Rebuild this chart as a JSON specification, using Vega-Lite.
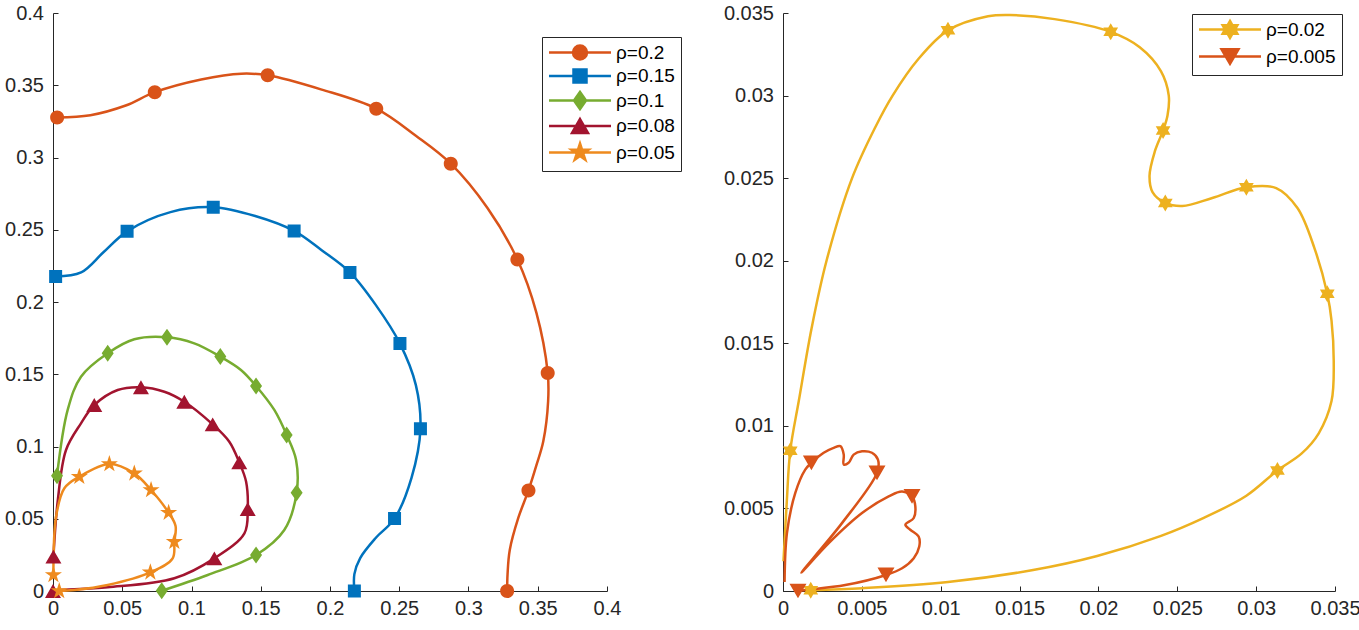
{
  "$schema": "https://vega.github.io/schema/vega-lite/v6.json",
  "padding": {"left": 4, "top": 3, "right": 5, "bottom": 5},
  "background": "white",
  "config": {
    "view": {"stroke": null},
    "axis": {"grid": false, "title": null, "domainColor": "#262626", "tickColor": "#262626", "labelColor": "#262626", "labelFont": "Liberation Sans", "labelFontSize": 20, "tickSize": -5, "domainWidth": 1, "tickWidth": 1, "labelFlush": false, "labelOverlap": false},
    "axisX": {"labelPadding": 12},
    "axisY": {"labelPadding": 14.5},
    "legend": {"labelFont": "Liberation Sans", "labelFontSize": 19, "labelColor": "#000000", "padding": 6, "strokeColor": "#262626", "fillColor": "#ffffff", "cornerRadius": 0, "symbolSize": 256, "symbolStrokeWidth": 2.5, "symbolOffset": 22.5, "labelOffset": 26.5, "symbolOpacity": 1, "title": null}
  },
  "datasets": {
    "leftLines": [
      {"s":"ρ=0.2","i":0,"x":0.003,"y":0.3277},{"s":"ρ=0.2","i":1,"x":0.027,"y":0.3293},{"s":"ρ=0.2","i":2,"x":0.0525,"y":0.336},{"s":"ρ=0.2","i":3,"x":0.0735,"y":0.3452},{"s":"ρ=0.2","i":4,"x":0.107,"y":0.354},{"s":"ρ=0.2","i":5,"x":0.136,"y":0.358},{"s":"ρ=0.2","i":6,"x":0.155,"y":0.3569},{"s":"ρ=0.2","i":7,"x":0.194,"y":0.347},{"s":"ρ=0.2","i":8,"x":0.2334,"y":0.3338},{"s":"ρ=0.2","i":9,"x":0.262,"y":0.315},{"s":"ρ=0.2","i":10,"x":0.2872,"y":0.2957},{"s":"ρ=0.2","i":11,"x":0.3137,"y":0.265},{"s":"ρ=0.2","i":12,"x":0.3353,"y":0.2294},{"s":"ρ=0.2","i":13,"x":0.349,"y":0.1926},{"s":"ρ=0.2","i":14,"x":0.3572,"y":0.1509},{"s":"ρ=0.2","i":15,"x":0.3575,"y":0.1314},{"s":"ρ=0.2","i":16,"x":0.354,"y":0.1036},{"s":"ρ=0.2","i":17,"x":0.349,"y":0.0869},{"s":"ρ=0.2","i":18,"x":0.3433,"y":0.0696},{"s":"ρ=0.2","i":19,"x":0.336,"y":0.0507},{"s":"ρ=0.2","i":20,"x":0.3298,"y":0.0284},{"s":"ρ=0.2","i":21,"x":0.3282,"y":0.0117},{"s":"ρ=0.2","i":22,"x":0.3279,"y":0},
      {"s":"ρ=0.15","i":0,"x":0.0019,"y":0.2177},{"s":"ρ=0.15","i":1,"x":0.0203,"y":0.2205},{"s":"ρ=0.15","i":2,"x":0.0364,"y":0.2344},{"s":"ρ=0.15","i":3,"x":0.0535,"y":0.2489},{"s":"ρ=0.15","i":4,"x":0.0848,"y":0.2622},{"s":"ρ=0.15","i":5,"x":0.1157,"y":0.2656},{"s":"ρ=0.15","i":6,"x":0.146,"y":0.2595},{"s":"ρ=0.15","i":7,"x":0.1741,"y":0.2492},{"s":"ρ=0.15","i":8,"x":0.194,"y":0.2358},{"s":"ρ=0.15","i":9,"x":0.2144,"y":0.2205},{"s":"ρ=0.15","i":10,"x":0.233,"y":0.198},{"s":"ρ=0.15","i":11,"x":0.2505,"y":0.1712},{"s":"ρ=0.15","i":12,"x":0.262,"y":0.1425},{"s":"ρ=0.15","i":13,"x":0.2653,"y":0.1122},{"s":"ρ=0.15","i":14,"x":0.2589,"y":0.0785},{"s":"ρ=0.15","i":15,"x":0.2466,"y":0.0501},{"s":"ρ=0.15","i":16,"x":0.233,"y":0.0367},{"s":"ρ=0.15","i":17,"x":0.2218,"y":0.0228},{"s":"ρ=0.15","i":18,"x":0.2176,"y":0.0117},{"s":"ρ=0.15","i":19,"x":0.2176,"y":0},
      {"s":"ρ=0.1","i":0,"x":0.0029,"y":0.0798},{"s":"ρ=0.1","i":1,"x":0.0106,"y":0.1253},{"s":"ρ=0.1","i":2,"x":0.0202,"y":0.1483},{"s":"ρ=0.1","i":3,"x":0.0395,"y":0.1645},{"s":"ρ=0.1","i":4,"x":0.0587,"y":0.1742},{"s":"ρ=0.1","i":5,"x":0.0823,"y":0.1756},{"s":"ρ=0.1","i":6,"x":0.102,"y":0.1714},{"s":"ρ=0.1","i":7,"x":0.1208,"y":0.1622},{"s":"ρ=0.1","i":8,"x":0.1357,"y":0.153},{"s":"ρ=0.1","i":9,"x":0.1466,"y":0.1419},{"s":"ρ=0.1","i":10,"x":0.1598,"y":0.1253},{"s":"ρ=0.1","i":11,"x":0.1687,"y":0.108},{"s":"ρ=0.1","i":12,"x":0.1755,"y":0.0907},{"s":"ρ=0.1","i":13,"x":0.1759,"y":0.068},{"s":"ρ=0.1","i":14,"x":0.167,"y":0.0422},{"s":"ρ=0.1","i":15,"x":0.1466,"y":0.0249},{"s":"ρ=0.1","i":16,"x":0.1117,"y":0.0111},{"s":"ρ=0.1","i":17,"x":0.0785,"y":0.0002},
      {"s":"ρ=0.08","i":0,"x":0.0003,"y":0.0238},{"s":"ρ=0.08","i":1,"x":0.0035,"y":0.063},{"s":"ρ=0.08","i":2,"x":0.0094,"y":0.0976},{"s":"ρ=0.08","i":3,"x":0.0202,"y":0.116},{"s":"ρ=0.08","i":4,"x":0.0298,"y":0.1287},{"s":"ρ=0.08","i":5,"x":0.0467,"y":0.1391},{"s":"ρ=0.08","i":6,"x":0.0635,"y":0.141},{"s":"ρ=0.08","i":7,"x":0.0804,"y":0.1379},{"s":"ρ=0.08","i":8,"x":0.0948,"y":0.131},{"s":"ρ=0.08","i":9,"x":0.1153,"y":0.1153},{"s":"ρ=0.08","i":10,"x":0.1273,"y":0.1033},{"s":"ρ=0.08","i":11,"x":0.1345,"y":0.089},{"s":"ρ=0.08","i":12,"x":0.1394,"y":0.0757},{"s":"ρ=0.08","i":13,"x":0.1406,"y":0.0567},{"s":"ρ=0.08","i":14,"x":0.1382,"y":0.0399},{"s":"ρ=0.08","i":15,"x":0.1165,"y":0.0226},{"s":"ρ=0.08","i":16,"x":0.0876,"y":0.0088},{"s":"ρ=0.08","i":17,"x":0.0395,"y":0.0026},{"s":"ρ=0.08","i":18,"x":0.004,"y":0.0005},{"s":"ρ=0.08","i":19,"x":0,"y":0},
      {"s":"ρ=0.05","i":0,"x":0.0003,"y":0.0111},{"s":"ρ=0.05","i":1,"x":0.0022,"y":0.0514},{"s":"ρ=0.05","i":2,"x":0.0082,"y":0.0711},{"s":"ρ=0.05","i":3,"x":0.019,"y":0.0791},{"s":"ρ=0.05","i":4,"x":0.0407,"y":0.0879},{"s":"ρ=0.05","i":5,"x":0.0587,"y":0.0814},{"s":"ρ=0.05","i":6,"x":0.0708,"y":0.0699},{"s":"ρ=0.05","i":7,"x":0.0835,"y":0.0542},{"s":"ρ=0.05","i":8,"x":0.0885,"y":0.045},{"s":"ρ=0.05","i":9,"x":0.0876,"y":0.0341},{"s":"ρ=0.05","i":10,"x":0.0864,"y":0.0226},{"s":"ρ=0.05","i":11,"x":0.0703,"y":0.0129},{"s":"ρ=0.05","i":12,"x":0.0395,"y":0.0042},{"s":"ρ=0.05","i":13,"x":0.0154,"y":0.0007},{"s":"ρ=0.05","i":14,"x":0.0045,"y":0}
    ],
    "leftMarks": [
      {"s":"ρ=0.2","x":0.003,"y":0.3277},{"s":"ρ=0.2","x":0.0735,"y":0.3452},{"s":"ρ=0.2","x":0.155,"y":0.3569},{"s":"ρ=0.2","x":0.2334,"y":0.3338},{"s":"ρ=0.2","x":0.2872,"y":0.2957},{"s":"ρ=0.2","x":0.3353,"y":0.2294},{"s":"ρ=0.2","x":0.3572,"y":0.1509},{"s":"ρ=0.2","x":0.3433,"y":0.0696},{"s":"ρ=0.2","x":0.3279,"y":0},
      {"s":"ρ=0.15","x":0.0019,"y":0.2177},{"s":"ρ=0.15","x":0.0535,"y":0.2489},{"s":"ρ=0.15","x":0.1157,"y":0.2656},{"s":"ρ=0.15","x":0.1741,"y":0.2492},{"s":"ρ=0.15","x":0.2144,"y":0.2205},{"s":"ρ=0.15","x":0.2505,"y":0.1712},{"s":"ρ=0.15","x":0.2653,"y":0.1122},{"s":"ρ=0.15","x":0.2466,"y":0.0501},{"s":"ρ=0.15","x":0.2176,"y":0},
      {"s":"ρ=0.1","x":0.0029,"y":0.0798},{"s":"ρ=0.1","x":0.0395,"y":0.1645},{"s":"ρ=0.1","x":0.0823,"y":0.1756},{"s":"ρ=0.1","x":0.1208,"y":0.1622},{"s":"ρ=0.1","x":0.1466,"y":0.1419},{"s":"ρ=0.1","x":0.1687,"y":0.108},{"s":"ρ=0.1","x":0.1759,"y":0.068},{"s":"ρ=0.1","x":0.1466,"y":0.0249},{"s":"ρ=0.1","x":0.0785,"y":0.0002},
      {"s":"ρ=0.08","x":0.0003,"y":0.0238},{"s":"ρ=0.08","x":0.0298,"y":0.1287},{"s":"ρ=0.08","x":0.0635,"y":0.141},{"s":"ρ=0.08","x":0.0948,"y":0.131},{"s":"ρ=0.08","x":0.1153,"y":0.1153},{"s":"ρ=0.08","x":0.1345,"y":0.089},{"s":"ρ=0.08","x":0.1406,"y":0.0567},{"s":"ρ=0.08","x":0.1165,"y":0.0226},{"s":"ρ=0.08","x":0,"y":0},
      {"s":"ρ=0.05","x":0.0003,"y":0.0111},{"s":"ρ=0.05","x":0.019,"y":0.0791},{"s":"ρ=0.05","x":0.0407,"y":0.0879},{"s":"ρ=0.05","x":0.0587,"y":0.0814},{"s":"ρ=0.05","x":0.0708,"y":0.0699},{"s":"ρ=0.05","x":0.0835,"y":0.0542},{"s":"ρ=0.05","x":0.0876,"y":0.0341},{"s":"ρ=0.05","x":0.0703,"y":0.0129},{"s":"ρ=0.05","x":0.0045,"y":0}
    ],
    "rightLines": [
      {"s":"ρ=0.02","i":0,"x":0.00003,"y":0.0018},{"s":"ρ=0.02","i":1,"x":0.00024,"y":0.0054},{"s":"ρ=0.02","i":2,"x":0.00046,"y":0.0085},{"s":"ρ=0.02","i":3,"x":0.001,"y":0.0115},{"s":"ρ=0.02","i":4,"x":0.00181,"y":0.0159},{"s":"ρ=0.02","i":5,"x":0.00276,"y":0.02},{"s":"ρ=0.02","i":6,"x":0.00438,"y":0.025},{"s":"ρ=0.02","i":7,"x":0.00586,"y":0.0281},{"s":"ρ=0.02","i":8,"x":0.00695,"y":0.03},{"s":"ρ=0.02","i":9,"x":0.00857,"y":0.0322},{"s":"ρ=0.02","i":10,"x":0.01046,"y":0.03395},{"s":"ρ=0.02","i":11,"x":0.013,"y":0.0348},{"s":"ρ=0.02","i":12,"x":0.01438,"y":0.03488},{"s":"ρ=0.02","i":13,"x":0.01722,"y":0.03463},{"s":"ρ=0.02","i":14,"x":0.02078,"y":0.03386},{"s":"ρ=0.02","i":15,"x":0.02262,"y":0.03293},{"s":"ρ=0.02","i":16,"x":0.02397,"y":0.03147},{"s":"ρ=0.02","i":17,"x":0.02446,"y":0.03},{"s":"ρ=0.02","i":18,"x":0.02438,"y":0.02879},{"s":"ρ=0.02","i":19,"x":0.0241,"y":0.02789},{"s":"ρ=0.02","i":20,"x":0.02357,"y":0.0266},{"s":"ρ=0.02","i":21,"x":0.02324,"y":0.02514},{"s":"ρ=0.02","i":22,"x":0.02343,"y":0.02416},{"s":"ρ=0.02","i":23,"x":0.02424,"y":0.0235},{"s":"ρ=0.02","i":24,"x":0.02532,"y":0.02331},{"s":"ρ=0.02","i":25,"x":0.02722,"y":0.0238},{"s":"ρ=0.02","i":26,"x":0.02938,"y":0.02445},{"s":"ρ=0.02","i":27,"x":0.03127,"y":0.0244},{"s":"ρ=0.02","i":28,"x":0.03262,"y":0.02319},{"s":"ρ=0.02","i":29,"x":0.0337,"y":0.02075},{"s":"ρ=0.02","i":30,"x":0.03451,"y":0.018},{"s":"ρ=0.02","i":31,"x":0.03478,"y":0.01637},{"s":"ρ=0.02","i":32,"x":0.03492,"y":0.01393},{"s":"ρ=0.02","i":33,"x":0.03478,"y":0.0115},{"s":"ρ=0.02","i":34,"x":0.03397,"y":0.00955},{"s":"ρ=0.02","i":35,"x":0.03289,"y":0.00833},{"s":"ρ=0.02","i":36,"x":0.03135,"y":0.0073},{"s":"ρ=0.02","i":37,"x":0.02938,"y":0.00577},{"s":"ρ=0.02","i":38,"x":0.02668,"y":0.00443},{"s":"ρ=0.02","i":39,"x":0.02397,"y":0.00334},{"s":"ρ=0.02","i":40,"x":0.01992,"y":0.00212},{"s":"ρ=0.02","i":41,"x":0.01586,"y":0.00127},{"s":"ρ=0.02","i":42,"x":0.01046,"y":0.00054},{"s":"ρ=0.02","i":43,"x":0.00505,"y":0.00017},{"s":"ρ=0.02","i":44,"x":0.00176,"y":0.00005},
      {"s":"ρ=0.005","i":0,"x":0.0001,"y":0.00055},{"s":"ρ=0.005","i":1,"x":0.00025,"y":0.0035},{"s":"ρ=0.005","i":2,"x":0.00078,"y":0.00594},{"s":"ρ=0.005","i":3,"x":0.00141,"y":0.00735},{"s":"ρ=0.005","i":4,"x":0.0018,"y":0.00776},{"s":"ρ=0.005","i":5,"x":0.00258,"y":0.00837},{"s":"ρ=0.005","i":6,"x":0.00321,"y":0.00867},{"s":"ρ=0.005","i":7,"x":0.00364,"y":0.00877},{"s":"ρ=0.005","i":8,"x":0.00385,"y":0.00826},{"s":"ρ=0.005","i":9,"x":0.00385,"y":0.00766},{"s":"ρ=0.005","i":10,"x":0.00416,"y":0.00776},{"s":"ρ=0.005","i":11,"x":0.00448,"y":0.00826},{"s":"ρ=0.005","i":12,"x":0.00501,"y":0.00846},{"s":"ρ=0.005","i":13,"x":0.00564,"y":0.00837},{"s":"ρ=0.005","i":14,"x":0.00602,"y":0.00796},{"s":"ρ=0.005","i":15,"x":0.00596,"y":0.00715},{"s":"ρ=0.005","i":16,"x":0.00374,"y":0.00411},{"s":"ρ=0.005","i":17,"x":0.00116,"y":0.00111},{"s":"ρ=0.005","i":18,"x":0.0029,"y":0.0029},{"s":"ρ=0.005","i":19,"x":0.00501,"y":0.00472},{"s":"ρ=0.005","i":20,"x":0.0067,"y":0.00573},{"s":"ρ=0.005","i":21,"x":0.00755,"y":0.00603},{"s":"ρ=0.005","i":22,"x":0.00818,"y":0.00573},{"s":"ρ=0.005","i":23,"x":0.00839,"y":0.00512},{"s":"ρ=0.005","i":24,"x":0.00829,"y":0.00442},{"s":"ρ=0.005","i":25,"x":0.00776,"y":0.00401},{"s":"ρ=0.005","i":26,"x":0.00807,"y":0.00371},{"s":"ρ=0.005","i":27,"x":0.0086,"y":0.0033},{"s":"ρ=0.005","i":28,"x":0.00864,"y":0.00269},{"s":"ρ=0.005","i":29,"x":0.00829,"y":0.00199},{"s":"ρ=0.005","i":30,"x":0.00755,"y":0.00138},{"s":"ρ=0.005","i":31,"x":0.00653,"y":0.00097},{"s":"ρ=0.005","i":32,"x":0.00395,"y":0.00036},{"s":"ρ=0.005","i":33,"x":0.00141,"y":0.00006},{"s":"ρ=0.005","i":34,"x":0.00095,"y":0}
    ],
    "rightMarks": [
      {"s":"ρ=0.02","x":0.00046,"y":0.0085},{"s":"ρ=0.02","x":0.01046,"y":0.03395},{"s":"ρ=0.02","x":0.02078,"y":0.03386},{"s":"ρ=0.02","x":0.0241,"y":0.02789},{"s":"ρ=0.02","x":0.02424,"y":0.0235},{"s":"ρ=0.02","x":0.02938,"y":0.02445},{"s":"ρ=0.02","x":0.03451,"y":0.018},{"s":"ρ=0.02","x":0.03135,"y":0.0073},{"s":"ρ=0.02","x":0.00176,"y":0.00005},
      {"s":"ρ=0.005","x":0.0018,"y":0.00776},{"s":"ρ=0.005","x":0.00596,"y":0.00715},{"s":"ρ=0.005","x":0.00818,"y":0.00573},{"s":"ρ=0.005","x":0.00653,"y":0.00097},{"s":"ρ=0.005","x":0.00095,"y":0}
    ]
  },
  "hconcat": [
    {
      "width": 554,
      "height": 578,
      "layer": [
        {
          "data": {"name": "leftLines"},
          "mark": {"type": "line", "interpolate": "catmull-rom", "strokeWidth": 2.5},
          "encoding": {
            "x": {"field": "x", "type": "quantitative", "scale": {"domain": [0, 0.4], "nice": false, "zero": false}, "axis": {"values": [0, 0.05, 0.1, 0.15, 0.2, 0.25, 0.3, 0.35, 0.4], "format": "~g"}},
            "y": {"field": "y", "type": "quantitative", "scale": {"domain": [0, 0.4], "nice": false, "zero": false}, "axis": {"values": [0, 0.05, 0.1, 0.15, 0.2, 0.25, 0.3, 0.35, 0.4], "format": "~g"}},
            "order": {"field": "i", "type": "quantitative"},
            "color": {
              "field": "s", "type": "nominal",
              "scale": {"domain": ["ρ=0.2", "ρ=0.15", "ρ=0.1", "ρ=0.08", "ρ=0.05"], "range": ["#D95319", "#0072BD", "#77AC30", "#A2142F", "#EE8A1E"]},
              "legend": {"orient": "none", "legendX": 489, "legendY": 24, "symbolStrokeWidth": 2.5, "symbolSize": 256, "rowPadding": -0.5}
            }
          }
        },
        {
          "data": {"name": "leftMarks"},
          "mark": {"type": "point", "filled": true, "size": 256, "opacity": 1, "strokeWidth": 0},
          "encoding": {
            "x": {"field": "x", "type": "quantitative"},
            "y": {"field": "y", "type": "quantitative"},
            "color": {"field": "s", "type": "nominal", "legend": {"orient": "none", "legendX": 489, "legendY": 24, "symbolStrokeWidth": 2.5, "symbolSize": 256, "rowPadding": -0.5}},
            "stroke": {
              "field": "s", "type": "nominal",
              "scale": {"domain": ["ρ=0.2", "ρ=0.15", "ρ=0.1", "ρ=0.08", "ρ=0.05"], "range": ["#D95319", "#0072BD", "#77AC30", "#A2142F", "#EE8A1E"]},
              "legend": {"orient": "none", "legendX": 489, "legendY": 24, "symbolStrokeWidth": 2.5, "symbolSize": 256, "rowPadding": -0.5}
            },
            "shape": {
              "field": "s", "type": "nominal",
              "scale": {"domain": ["ρ=0.2", "ρ=0.15", "ρ=0.1", "ρ=0.08", "ρ=0.05"], "range": [
                "M-3.875,0L3.875,0M0.875,0C0.875,0.4833 0.4833,0.875 0,0.875C-0.4833,0.875 -0.875,0.4833 -0.875,0C-0.875,-0.4833 -0.4833,-0.875 0,-0.875C0.4833,-0.875 0.875,-0.4833 0.875,0Z",
                "M-3.875,0L3.875,0M-0.8125,-0.8125L0.8125,-0.8125L0.8125,0.8125L-0.8125,0.8125Z",
                "M-3.875,0L3.875,0M0,-1.0625L0.75,0L0,1.0625L-0.75,0Z",
                "M-3.875,0L3.875,0M0,-0.866L1,0.866L-1,0.866Z",
                "M-3.875,0L3.875,0M0,-1.125L0.2526,-0.3476L1.0699,-0.3476L0.4084,0.1328L0.6615,0.9101L0,0.4298L-0.6615,0.9101L-0.4084,0.1328L-1.0699,-0.3476L-0.2526,-0.3476Z"
              ]},
              "legend": {"orient": "none", "legendX": 489, "legendY": 24, "symbolStrokeWidth": 2.5, "symbolSize": 256, "rowPadding": -0.5}
            }
          }
        }
      ]
    },
    {
      "width": 552,
      "height": 578,
      "layer": [
        {
          "data": {"name": "rightLines"},
          "mark": {"type": "line", "interpolate": "catmull-rom", "strokeWidth": 2.5},
          "encoding": {
            "x": {"field": "x", "type": "quantitative", "scale": {"domain": [0, 0.035], "nice": false, "zero": false}, "axis": {"values": [0, 0.005, 0.01, 0.015, 0.02, 0.025, 0.03, 0.035], "format": "~g"}},
            "y": {"field": "y", "type": "quantitative", "scale": {"domain": [0, 0.035], "nice": false, "zero": false}, "axis": {"values": [0, 0.005, 0.01, 0.015, 0.02, 0.025, 0.03, 0.035], "format": "~g"}},
            "order": {"field": "i", "type": "quantitative"},
            "color": {
              "field": "s", "type": "nominal",
              "scale": {"domain": ["ρ=0.02", "ρ=0.005"], "range": ["#EDB120", "#D95319"]},
              "legend": {"orient": "none", "legendX": 409, "legendY": 1, "symbolStrokeWidth": 2.5, "symbolSize": 256, "rowPadding": 1}
            }
          }
        },
        {
          "data": {"name": "rightMarks"},
          "mark": {"type": "point", "filled": true, "size": 256, "opacity": 1, "strokeWidth": 0},
          "encoding": {
            "x": {"field": "x", "type": "quantitative"},
            "y": {"field": "y", "type": "quantitative"},
            "color": {"field": "s", "type": "nominal", "legend": {"orient": "none", "legendX": 409, "legendY": 1, "symbolStrokeWidth": 2.5, "symbolSize": 256, "rowPadding": 1}},
            "stroke": {
              "field": "s", "type": "nominal",
              "scale": {"domain": ["ρ=0.02", "ρ=0.005"], "range": ["#EDB120", "#D95319"]},
              "legend": {"orient": "none", "legendX": 409, "legendY": 1, "symbolStrokeWidth": 2.5, "symbolSize": 256, "rowPadding": 1}
            },
            "shape": {
              "field": "s", "type": "nominal",
              "scale": {"domain": ["ρ=0.02", "ρ=0.005"], "range": [
                "M-3.875,0L3.875,0M0,-1.0625L0.307,-0.531L0.92,-0.531L0.613,0L0.92,0.531L0.307,0.531L0,1.0625L-0.307,0.531L-0.92,0.531L-0.613,0L-0.92,-0.531L-0.307,-0.531Z",
                "M-3.875,0L3.875,0M-1.0625,-0.92L1.0625,-0.92L0,0.92Z"
              ]},
              "legend": {"orient": "none", "legendX": 409, "legendY": 1, "symbolStrokeWidth": 2.5, "symbolSize": 256, "rowPadding": 1}
            }
          }
        }
      ]
    }
  ],
  "spacing": 176,
  "bounds": "flush",
  "resolve": {"scale": {"color": "independent", "shape": "independent", "stroke": "independent", "x": "independent", "y": "independent"}, "legend": {"color": "independent", "shape": "independent", "stroke": "independent"}}
}
